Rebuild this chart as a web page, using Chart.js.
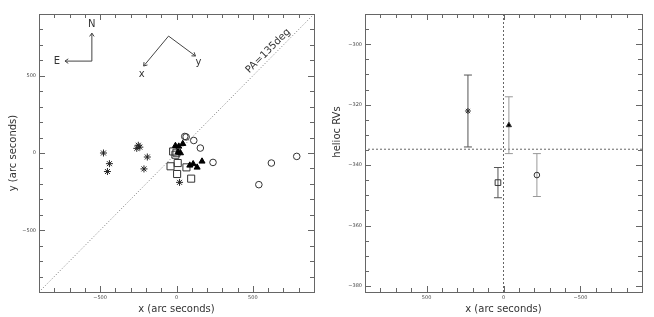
<!DOCTYPE html>
<html>
<head>
<meta charset="utf-8">
<script src="https://cdn.jsdelivr.net/npm/chart.js@4"></script>
<style>
  html, body { margin: 0; padding: 0; background: #fff; }
  #wrap { position: relative; width: 654px; height: 317px; }
  canvas { position: absolute; top: 0; }
</style>
</head>
<body>
<div id="wrap">
  <canvas id="posChart" width="330" height="317" style="left:0"></canvas>
  <canvas id="rvChart" width="324" height="317" style="left:330px"></canvas>
</div>
<script>
// positions on the sky (arc seconds)
const starX = [-478, -439, -452, -260, -250, -240, -191, -213, 20];
const starY = [0, -69, -120, 30, 50, 38, -26, -103, -190];
const circX = [54, 63, 113, 156, 239, 539, 621, 787];
const circY = [107, 104, 81, 32, -61, -205, -65, -22];
const sqX = [-22, -7, 0, -39, 8, 4, 65, 96];
const sqY = [10, -11, 2, -86, -65, -136, -93, -166];
const triX = [-7, 15, 41, 26, 10, 87, 109, 135, 167];
const triY = [47, 43, 60, 0, 5, -80, -71, -93, -54];

// heliocentric RVs per group: star, triangle, square, circle
const rvX = [231, -35, 36, -217];
const rvY = [-322.1, -326.8, -345.8, -343.3];
const rvErr = [11.9, 9.4, 5.0, 7.1];
const meanRV = -334.75;

const posRange = [-900, 900];
const rvRange = [-382, -290];
const posTicks = [-500, 0, 500];
const rvTicks = [-380, -360, -340, -320, -300];

Chart.defaults.font.family = 'DejaVu Sans';
Chart.defaults.color = '#333';

const zip = (xs, ys) => xs.map((x, i) => ({ x: x, y: ys[i] }));
const fmt = v => (v < 0 ? '\u2212' + Math.abs(v) : '' + v);

// frame plus inward ticks on all four sides
const frameTicks = {
  id: 'frameTicks',
  afterDraw(chart, args, o) {
    const { ctx, chartArea: a, scales: { x, y } } = chart;
    ctx.save();
    ctx.strokeStyle = '#666';
    ctx.lineWidth = 1;
    ctx.strokeRect(Math.round(a.left) + 0.5, Math.round(a.top) + 0.5,
      Math.round(a.right - a.left), Math.round(a.bottom - a.top));
    ctx.beginPath();
    for (let i = Math.ceil(x.min / o.xStep); i * o.xStep <= x.max; i++) {
      const v = i * o.xStep;
      const px = Math.round(x.getPixelForValue(v)) + 0.5;
      const len = v % o.xMajor === 0 ? 6 : 4;
      ctx.moveTo(px, a.bottom); ctx.lineTo(px, a.bottom - len);
      ctx.moveTo(px, a.top); ctx.lineTo(px, a.top + len);
    }
    for (let i = Math.ceil(y.min / o.yStep); i * o.yStep <= y.max; i++) {
      const v = i * o.yStep;
      const py = Math.round(y.getPixelForValue(v)) + 0.5;
      const len = v % o.yMajor === 0 ? 6 : 4;
      ctx.moveTo(a.left, py); ctx.lineTo(a.left + len, py);
      ctx.moveTo(a.right, py); ctx.lineTo(a.right - len, py);
    }
    ctx.stroke();
    ctx.restore();
  }
};

// compass and PA label, placed in data coordinates
const compass = {
  id: 'compass',
  afterDatasetsDraw(chart) {
    const { ctx, scales: { x, y } } = chart;
    const P = (a, b) => [x.getPixelForValue(a), y.getPixelForValue(b)];
    const arrow = (from, to) => {
      const [x0, y0] = P(from[0], from[1]);
      const [x1, y1] = P(to[0], to[1]);
      const ang = Math.atan2(y1 - y0, x1 - x0);
      ctx.beginPath();
      ctx.moveTo(x0, y0); ctx.lineTo(x1, y1);
      for (const s of [-1, 1]) {
        ctx.moveTo(x1, y1);
        ctx.lineTo(x1 - 4 * Math.cos(ang + s * 0.6), y1 - 4 * Math.sin(ang + s * 0.6));
      }
      ctx.stroke();
    };
    const label = (t, a, b) => { const [px, py] = P(a, b); ctx.fillText(t, px, py); };
    ctx.save();
    ctx.strokeStyle = '#444';
    ctx.fillStyle = '#333';
    ctx.lineWidth = 1;
    ctx.font = '10px "DejaVu Sans"';
    ctx.textAlign = 'center';
    ctx.textBaseline = 'middle';
    arrow([-554, 595], [-554, 776]);
    arrow([-554, 595], [-730, 595]);
    label('N', -554, 834);
    label('E', -782, 595);
    arrow([-52, 757], [-215, 563]);
    arrow([-52, 757], [124, 628]);
    label('x', -228, 511);
    label('y', 143, 589);
    const [tx, ty] = P(600, 660);
    ctx.translate(tx, ty);
    ctx.rotate(-Math.PI / 4);
    ctx.fillText('PA=135deg', 0, 0);
    ctx.restore();
  }
};

const rvTitle = {
  id: 'rvTitle',
  afterDraw(chart) {
    const { ctx } = chart;
    ctx.save();
    ctx.fillStyle = '#333';
    ctx.font = '10px "DejaVu Sans"';
    ctx.textAlign = 'center';
    ctx.textBaseline = 'middle';
    ctx.translate(7, 132);
    ctx.rotate(-Math.PI / 2);
    ctx.fillText('helioc RVs', 0, 0);
    ctx.restore();
  }
};

function axes(xr, yr, xt, yt, xRev, yTitle, yW) {
  return {
    x: {
      type: 'linear', min: xr[0], max: xr[1], reverse: xRev,
      grid: { display: false, drawTicks: false },
      border: { display: false },
      afterBuildTicks: s => { s.ticks = xt.map(v => ({ value: v })); },
      afterFit: s => { s.height = 25; },
      ticks: { font: { size: 5 }, color: '#444', padding: 3, maxRotation: 0, autoSkip: false, callback: fmt },
      title: { display: true, text: 'x (arc seconds)', font: { size: 10 }, color: '#333', padding: { top: 0, bottom: 2 } }
    },
    y: {
      type: 'linear', min: yr[0], max: yr[1],
      grid: { display: false, drawTicks: false },
      border: { display: false },
      afterBuildTicks: s => { s.ticks = yt.map(v => ({ value: v })); },
      afterFit: s => { s.width = yW; },
      ticks: { font: { size: 5 }, color: '#444', padding: 3, autoSkip: false, callback: fmt },
      title: { display: !!yTitle, text: yTitle || '', font: { size: 10 }, color: '#333', padding: { top: 7, bottom: 0 } }
    }
  };
}

const base = {
  responsive: false,
  animation: false,
  plugins: { legend: { display: false }, tooltip: { enabled: false } }
};

new Chart(document.getElementById('posChart'), {
  type: 'scatter',
  data: {
    datasets: [
      { data: zip(triX, triY), pointStyle: 'triangle', pointRadius: 3.5, backgroundColor: '#000', borderColor: '#000', borderWidth: 1 },
      { data: zip(sqX, sqY), pointStyle: 'rect', pointRadius: 5, backgroundColor: 'rgba(0,0,0,0)', borderColor: '#333', borderWidth: 1 },
      { data: zip(circX, circY), pointStyle: 'circle', pointRadius: 3.3, backgroundColor: 'rgba(0,0,0,0)', borderColor: '#333', borderWidth: 1 },
      { data: zip(starX, starY), pointStyle: 'star', pointRadius: 3.5, borderColor: '#222', borderWidth: 1 },
      { data: [{ x: posRange[0], y: posRange[0] }, { x: posRange[1], y: posRange[1] }], showLine: true, pointRadius: 0,
        borderColor: '#777', borderWidth: 1, borderDash: [1, 2] }
    ]
  },
  options: Object.assign({}, base, {
    layout: { padding: { top: 14, right: 16, left: 0, bottom: 0 } },
    scales: axes(posRange, posRange, posTicks, posTicks, false, 'y (arc seconds)', 39),
    plugins: Object.assign({}, base.plugins, {
      frameTicks: { xStep: 100, xMajor: 500, yStep: 100, yMajor: 500 }
    })
  }),
  plugins: [frameTicks, compass]
});

const rvStyles = ['star', 'triangle', 'rect', 'circle'];
const rvSizes = [3, 3, 4, 2.8];
const barColors = ['#555', '#999', '#555', '#999'];
const rvSets = [];
rvX.forEach((x, i) => {
  rvSets.push({ data: [{ x: x, y: rvY[i] }], pointStyle: rvStyles[i], pointRadius: rvSizes[i],
    backgroundColor: rvStyles[i] === 'triangle' ? '#000' : 'rgba(0,0,0,0)', borderColor: '#333', borderWidth: 1 });
});
rvX.forEach((x, i) => {
  rvSets.push({ data: [{ x: x, y: rvY[i] - rvErr[i] }, { x: x, y: rvY[i] + rvErr[i] }], showLine: true,
    pointStyle: 'line', pointRadius: 4, borderColor: barColors[i], borderWidth: 1 });
});
rvSets.push({ data: [{ x: posRange[0], y: meanRV }, { x: posRange[1], y: meanRV }], showLine: true, pointRadius: 0,
  borderColor: '#666', borderWidth: 1, borderDash: [2, 2] });
rvSets.push({ data: [{ x: 0, y: rvRange[0] }, { x: 0, y: rvRange[1] }], showLine: true, pointRadius: 0,
  borderColor: '#666', borderWidth: 1, borderDash: [2, 2] });

new Chart(document.getElementById('rvChart'), {
  type: 'scatter',
  data: { datasets: rvSets },
  options: Object.assign({}, base, {
    layout: { padding: { top: 14, right: 12, left: 0, bottom: 0 } },
    scales: axes(posRange, rvRange, posTicks, rvTicks, true, '', 35),
    plugins: Object.assign({}, base.plugins, {
      frameTicks: { xStep: 100, xMajor: 500, yStep: 5, yMajor: 20 }
    })
  }),
  plugins: [frameTicks, rvTitle]
});
</script>
</body>
</html>
